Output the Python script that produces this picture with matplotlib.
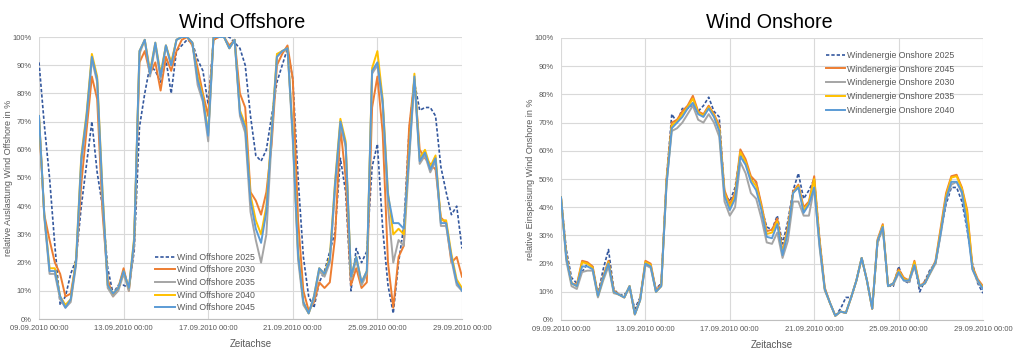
import numpy as np
import pandas as pd
import matplotlib
matplotlib.use("Agg")
import matplotlib.pyplot as plt
import matplotlib.dates as mdates
from matplotlib.ticker import FuncFormatter

plt.rcParams['font.family'] = ['Liberation Sans', 'DejaVu Sans']

# 6-hour steps, 09.09.2010 00:00 .. 29.09.2010 00:00
zeit = pd.date_range('2010-09-09', periods=81, freq='6h')
tick_dates = pd.date_range('2010-09-09', '2010-09-29', freq='4D')

# Wind Offshore (%)
off_2025 = [91, 69, 50, 26, 5, 8, 16, 21, 40, 55, 70, 52, 40, 18, 9, 12, 12, 11, 24, 68,
            80, 90, 88, 84, 92, 80, 95, 97, 99, 98, 92, 88, 76, 99, 100, 100, 100, 98, 96, 90,
            72, 58, 56, 60, 72, 84, 90, 96, 85, 50, 22, 8, 4, 13, 17, 24, 31, 57, 45, 10,
            25, 20, 24, 54, 62, 32, 12, 2, 20, 33, 67, 84, 74, 75, 75, 72, 54, 45, 37, 40, 25]
off_2030 = [70, 37, 28, 20, 16, 8, 9, 20, 48, 67, 86, 78, 38, 14, 8, 11, 18, 10, 27, 91,
            95, 87, 91, 81, 93, 88, 95, 99, 100, 97, 89, 80, 72, 99, 100, 100, 97, 99, 80, 75,
            45, 42, 37, 45, 62, 90, 94, 97, 85, 35, 10, 3, 6, 13, 11, 13, 29, 68, 50, 12,
            18, 11, 13, 75, 86, 66, 20, 4, 22, 26, 68, 85, 60, 57, 55, 53, 36, 34, 20, 22, 15]
off_2035 = [72, 36, 16, 16, 7, 4, 6, 19, 55, 71, 92, 84, 42, 11, 8, 10, 16, 10, 27, 94,
            99, 86, 97, 85, 97, 90, 99, 100, 100, 98, 83, 77, 63, 100, 100, 100, 96, 99, 72, 66,
            38, 28, 20, 30, 64, 93, 95, 96, 63, 21, 5, 2, 7, 17, 15, 20, 46, 69, 61, 14,
            21, 12, 16, 87, 90, 76, 40, 20, 28, 26, 56, 85, 55, 58, 52, 56, 33, 33, 21, 12, 10]
off_2040 = [72, 37, 18, 18, 8, 5, 7, 21, 58, 73, 94, 86, 46, 12, 9, 11, 17, 11, 29, 95,
            99, 88, 98, 87, 97, 91, 99, 100, 100, 98, 86, 79, 66, 100, 100, 100, 96, 99, 74, 69,
            44, 35, 30, 40, 67, 94, 95, 96, 66, 24, 6, 2, 8, 18, 16, 22, 49, 71, 63, 15,
            22, 13, 17, 89, 95, 78, 45, 30, 32, 30, 59, 87, 57, 60, 54, 58, 35, 35, 23, 14, 11]
off_2045 = [72, 37, 17, 17, 8, 4, 7, 20, 57, 72, 93, 85, 45, 12, 9, 11, 17, 11, 28, 95,
            99, 87, 98, 86, 97, 90, 99, 100, 100, 98, 85, 78, 65, 100, 100, 100, 96, 99, 73, 68,
            42, 32, 27, 38, 66, 93, 95, 96, 65, 23, 6, 2, 8, 18, 16, 21, 48, 70, 62, 15,
            22, 13, 17, 88, 91, 77, 44, 34, 34, 32, 58, 86, 56, 59, 53, 57, 34, 34, 22, 13, 10]

# Wind Onshore (%)
on_2025 = [43.5, 25, 15, 13, 17, 20, 19, 9, 18, 25, 11, 9, 9, 11, 4, 8, 20, 19, 11, 13,
           50, 73, 70, 75, 75, 76, 74, 76, 79, 74, 72, 45, 42, 47, 59, 56, 50, 49, 40, 33,
           32, 37, 27, 35, 46, 52, 43, 46, 50, 29, 11, 6, 1.5, 4, 8, 8, 14, 22, 14, 4,
           27, 33, 12, 12, 19, 14, 13, 20, 10, 14, 18, 20, 31, 41, 47, 47, 42, 32, 20, 13, 9.5]
on_2045 = [43.5, 23, 13, 12.5, 21, 20.5, 19, 9, 15.5, 21, 10.5, 9, 8, 12, 2, 7.5, 21, 20, 10.5, 12.5,
           50, 70, 71, 74, 76, 79.5, 74, 73, 76, 73, 69, 46, 41, 45, 60.5, 57, 51, 49, 41, 31.5,
           32, 36, 24, 33, 45.5, 48, 40, 42, 51, 29, 11.5, 6, 1.5, 3, 2.5, 8, 14, 22, 14, 4,
           28.5, 34, 12, 13, 18, 15, 14, 21, 12, 13.5, 17, 21, 33, 45, 51, 51.5, 47, 39, 19, 14.5, 12]
on_2030 = [43.5, 21, 12, 11, 17, 17.5, 17.5, 8, 14, 19, 9.5, 9, 8, 12, 2, 7, 19.5, 18.5, 10, 12,
           48, 67, 68, 70, 73, 76, 71, 70, 73, 70, 65, 42, 37, 40, 56, 52, 45, 43, 36, 27.5,
           27, 31, 22, 28, 42, 42, 37, 37, 47, 26, 10.5, 6, 1.5, 3, 2.5, 8, 14, 22, 14, 4,
           27.5, 32.5, 12, 12.5, 16.5, 14, 13.5, 19, 12, 13, 16.5, 20, 30.5, 42.5, 48, 49, 45, 35, 18, 13.5, 11]
on_2035 = [43.5, 22.5, 13, 12, 20.5, 20, 18.5, 8.5, 15, 20.5, 10, 9, 8, 12, 2, 7, 20.5, 19.5, 10, 12,
           49, 69, 70.5, 73, 75.5, 78.5, 73.5, 72.5, 75.5, 72.5, 68, 45, 40, 44, 59.5, 56, 50, 47.5, 40, 30.5,
           31, 35, 23.5, 32, 45, 47.5, 39, 41.5, 50, 28, 11, 6, 1.5, 3, 2.5, 8, 14, 22, 14, 4,
           28, 33.5, 12, 13, 17.5, 14.5, 14, 20.5, 12, 13, 17, 20.5, 32, 44, 50.5, 51, 46.5, 38, 18.5, 14, 11.5]
on_2040 = [43.5, 22, 13, 12, 19, 19, 18, 8.5, 15, 20, 10, 9, 8, 12, 2, 7, 20, 19, 10, 12,
           48, 68, 70, 72, 75, 77, 73, 72, 75, 72, 67, 44, 39, 43, 58, 55, 49, 46, 39, 29.5,
           29, 34, 23, 31, 45, 47, 38, 41, 47, 27, 11, 6, 1.5, 3, 2.5, 8, 14, 22, 14, 4,
           28, 33, 12, 13, 17, 14, 14, 19.5, 12, 13, 17, 20.5, 31, 43, 49, 49, 45.5, 33, 18, 14, 11]

c_dash = '#34589e'
c_orange = '#ed7d31'
c_gray = '#a5a5a5'
c_yellow = '#ffc000'
c_blue = '#5b9bd5'
txt = '#595959'

fig = plt.figure(figsize=(10.19, 3.53), dpi=100)
ax1 = fig.add_axes([39/1019, 34/353, 423/1019, 282/353])
ax2 = fig.add_axes([561/1019, 33/353, 422/1019, 282/353])

lw = 1.4
ax1.plot(zeit, off_2025, color=c_dash, lw=1.2, ls=(0, (2, 1.2)), label='Wind Offshore 2025')
ax1.plot(zeit, off_2030, color=c_orange, lw=lw, label='Wind Offshore 2030')
ax1.plot(zeit, off_2035, color=c_gray, lw=lw, label='Wind Offshore 2035')
ax1.plot(zeit, off_2040, color=c_yellow, lw=lw, label='Wind Offshore 2040')
ax1.plot(zeit, off_2045, color=c_blue, lw=lw, label='Wind Offshore 2045')

l_dash, = ax2.plot(zeit, on_2025, color=c_dash, lw=1.2, ls=(0, (2, 1.2)), label='Windenergie Onshore 2025')
l45, = ax2.plot(zeit, on_2045, color=c_orange, lw=lw, label='Windenergie Onshore 2045')
l30, = ax2.plot(zeit, on_2030, color=c_gray, lw=lw, label='Windenergie Onshore 2030')
l35, = ax2.plot(zeit, on_2035, color=c_yellow, lw=lw, label='Windenergie Onshore 2035')
l40, = ax2.plot(zeit, on_2040, color=c_blue, lw=lw, label='Windenergie Onshore 2040')

for ax, ylab in [(ax1, 'relative Auslastung Wind Offshore in %'),
                 (ax2, 'relative Einspeisung Wind Onshore in %')]:
    ax.set_xlim(zeit[0], zeit[-1])
    ax.set_ylim(0, 100)
    ax.set_yticks(range(0, 101, 10))
    ax.yaxis.set_major_formatter(FuncFormatter(lambda v, p: f'{v:.0f}%'))
    ax.set_xticks(tick_dates)
    ax.xaxis.set_major_formatter(mdates.DateFormatter('%d.%m.%Y %H:%M'))
    ax.grid(True, color='#d9d9d9', lw=0.8)
    ax.set_axisbelow(True)
    for s in ['top', 'right', 'left']:
        ax.spines[s].set_visible(False)
    ax.spines['bottom'].set_color('#bfbfbf')
    ax.tick_params(length=0, labelsize=5.5, labelcolor=txt)
    ax.tick_params(axis='y', pad=5)
    ax.tick_params(axis='x', pad=4)
    ax.set_xlabel('Zeitachse', fontsize=7, color=txt)
    ax.xaxis.set_label_coords(0.5, -0.07)
    ax.set_ylabel(ylab, fontsize=6.5, color=txt)
    ax.yaxis.set_label_coords(-0.062, 0.5)

ax1.legend(loc='upper left', bbox_to_anchor=(0.275, 0.235), frameon=False, fontsize=6.3,
           labelcolor=txt, handlelength=2.3, handletextpad=0.15, labelspacing=0.42,
           borderpad=0, borderaxespad=0)
ax2.legend(handles=[l_dash, l45, l30, l35, l40], loc='upper left', bbox_to_anchor=(0.628, 0.955),
           frameon=False, fontsize=6.3, labelcolor=txt, handlelength=2.2, handletextpad=0.15,
           labelspacing=0.55, borderpad=0, borderaxespad=0)

fig.text(242/1019, 1 - 28/353, 'Wind Offshore', ha='center', va='baseline', fontsize=14.2)
fig.text(769/1019, 1 - 28/353, 'Wind Onshore', ha='center', va='baseline', fontsize=14.2)

fig.savefig('out.png', dpi=100)
